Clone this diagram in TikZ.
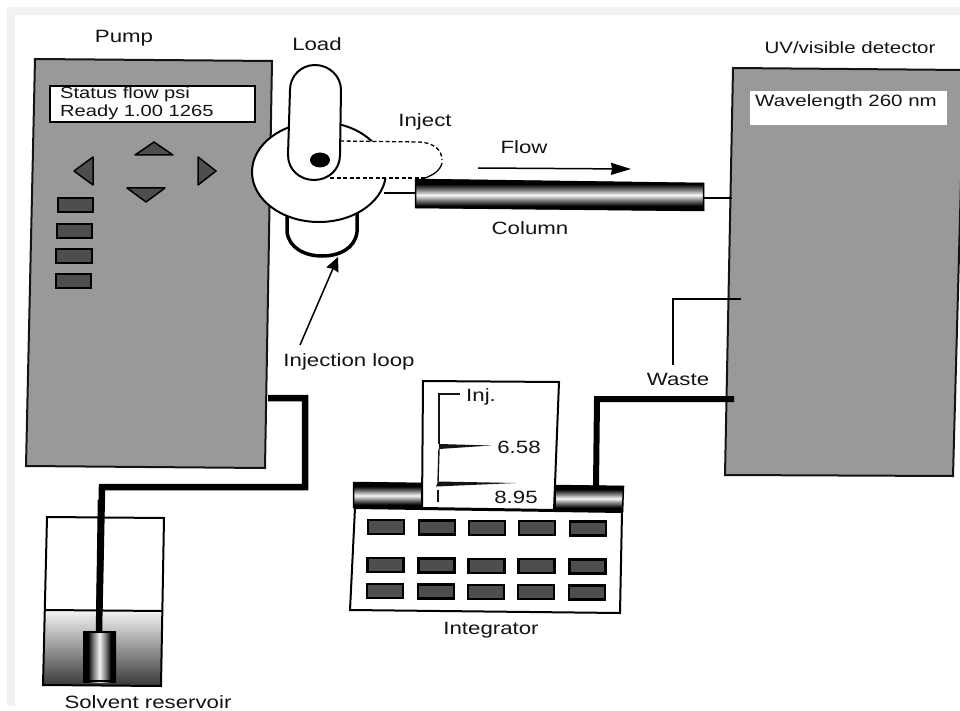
\documentclass[tikz,border=0pt]{standalone}
\usepackage{fontspec}
\setmainfont[FakeStretch=1.25]{Liberation Sans}
\usetikzlibrary{arrows.meta}
\definecolor{panelgray}{HTML}{999999}
\definecolor{keygray}{HTML}{4E4E4E}
\definecolor{bandcolor}{HTML}{F3F2EE}
\definecolor{ink}{HTML}{141414}
\pgfdeclareverticalshading{tubev}{100bp}{color(0bp)=(black);color(33bp)=(black);color(42bp)=(black!50);color(50bp)=(black!3);color(58bp)=(black!50);color(67bp)=(black);color(100bp)=(black)}
\pgfdeclarehorizontalshading{tubeh}{100bp}{color(0bp)=(black);color(33bp)=(black);color(40bp)=(black!55);color(50bp)=(black!5);color(60bp)=(black!55);color(67bp)=(black);color(100bp)=(black)}
\tikzset{
  x=1pt,y=-1pt,
  lbl/.style={text=ink,inner sep=0pt,font=\fontsize{17.8}{20}\selectfont},
  lblnarrow/.style={text=ink,inner sep=0pt,font=\fontsize{16.4}{19}\selectfont},
  lblstatus/.style={text=ink,inner sep=0pt,font=\fontsize{16.1}{19}\selectfont},
  panel/.style={fill=panelgray,draw=ink,line width=2pt,line join=miter},
  keybtn/.style={fill=keygray,draw=black,line width=2.5pt},
  arrowkey/.style={fill=keygray,draw=black,line width=1.5pt,line join=round},
  outline/.style={draw=black,line width=2pt,fill=white},
  thickpipe/.style={draw=black,line width=6.5pt,line join=miter},
  midpipe/.style={draw=black,line width=6pt,line join=miter},
  thinpipe/.style={draw=black,line width=2pt},
  trace/.style={draw=ink,line width=1.4pt},
  tubeedge/.style={draw=black,line width=1.5pt},
}
\begin{document}
\begin{tikzpicture}
\useasboundingbox (0,0) rectangle (960,711);
\fill[white] (0,0) rectangle (960,711);
\fill[bandcolor] (7,7) rectangle (960,15);
\fill[bandcolor] (7,7) rectangle (15,706);

% connection points
\coordinate (pumpout) at (268,398);
\coordinate (pipeA) at (305,398);
\coordinate (pipeB) at (305,487);
\coordinate (pipeC) at (102,487);
\coordinate (filtertop) at (99,632);
\coordinate (valveout) at (384,193);
\coordinate (colin) at (416,193);
\coordinate (colout) at (703,198);
\coordinate (detin) at (732,198);
\coordinate (wasteout) at (741,299);
\coordinate (wasteA) at (673,299);
\coordinate (wasteB) at (673,365);
\coordinate (sigout) at (734,399);
\coordinate (sigA) at (597,399);
\coordinate (sigB) at (596,486);
\coordinate (flowA) at (478,168);
\coordinate (flowB) at (631,169);
\coordinate (loopArrowA) at (300,345);
\coordinate (loopArrowB) at (338,257);

% pump
\path[panel] (35,59) -- (272,61) -- (265,468) -- (26,466) -- cycle;
\draw[fill=white,draw=black,line width=2.5pt] (50,86) rectangle (255,122);
\node[lblstatus,anchor=west] (statusA) at (60,94) {Status flow psi};
\node[lblstatus,anchor=west] (statusB) at (60,112) {Ready 1.00 1265};
\path[arrowkey] (135,155) -- (154,142) -- (173,155) -- cycle;
\path[arrowkey] (74,171) -- (93,157) -- (93,185) -- cycle;
\path[arrowkey] (198,157) -- (198,185) -- (216,171) -- cycle;
\path[arrowkey] (127,188) -- (165,188) -- (146,202) -- cycle;
\path[keybtn] (58,198) rectangle (93,212);
\path[keybtn] (57,224) rectangle (92,238);
\path[keybtn] (56,249) rectangle (92,263);
\path[keybtn] (56,274) rectangle (91,288);

% detector
\path[panel] (733,68) -- (964,70) -- (953,476) -- (725,475) -- cycle;
\fill[white] (750,91) rectangle (947,125);
\node[lblnarrow,anchor=west] (wave) at (755,102) {Wavelength 260 nm};

% pipes
\draw[thickpipe] (pumpout) -- (pipeA) -- (pipeB) -- (pipeC) -- (filtertop);
\draw[thinpipe] (valveout) -- (colin);
\draw[thinpipe] (colout) -- (detin);
\draw[thinpipe] (wasteout) -- (wasteA) -- (wasteB);
\draw[midpipe] (sigout) -- (sigA) -- (sigB);

% column
\path[shading=tubev] (415,179) -- (704,183) -- (704,211) -- (415,208) -- cycle;
\path[tubeedge] (415.5,179.5) -- (703.5,183.5) -- (703.5,210.5) -- (415.5,207.5) -- cycle;

% injection loop
\draw[draw=black,line width=3.5pt] (287,210) -- (287,232) .. controls (289,248) and (305,256) .. (322,256) .. controls (340,256) and (355,248) .. (357,232) -- (357,210);
% valve
\draw[outline] (319,172) ellipse [x radius=67,y radius=50];
% inject position
\fill[white] (340,141) -- (420,142) .. controls (434,143) and (442,150) .. (442,160) .. controls (442,170) and (434,178) .. (420,178) -- (330,178) -- cycle;
\draw[black,line width=1.3pt,dash pattern=on 4pt off 2.5pt] (340,141) -- (420,142) .. controls (434,143) and (442,150) .. (442,160);
\draw[black,line width=1.3pt,dash pattern=on 4pt off 2.5pt] (425,178) -- (330,178);
\draw[black,line width=1.3pt] (442,163) .. controls (440,171) and (433,175) .. (425,178);
% load position
\draw[outline] (290,90) .. controls (290,76) and (301,65) .. (315,65) .. controls (329,65) and (341,76) .. (341,90) -- (340,155) .. controls (340,170) and (328,180) .. (314,180) .. controls (300,180) and (288,170) .. (288,155) -- cycle;
\fill[black] (320,160) ellipse [x radius=10,y radius=7.5];

\draw[black,line width=1.5pt,-{Stealth[length=14pt,width=13pt,inset=1pt]}] (loopArrowA) -- (loopArrowB);
\draw[black,line width=1.5pt,-{Stealth[length=20pt,width=12pt,inset=1pt]}] (flowA) -- (flowB);

% integrator
\path[shading=tubev] (353,482) -- (424,483) -- (424,509) -- (353,508) -- cycle;
\path[tubeedge] (353.5,482.5) -- (424,483.5) -- (424,508.5) -- (353.5,507.5) -- cycle;
\path[shading=tubev] (555,485) -- (624,486) -- (623,512) -- (555,511) -- cycle;
\path[tubeedge] (555,485.5) -- (623.5,486.5) -- (622.5,511.5) -- (555,510.5) -- cycle;
\draw[outline] (355,508) -- (622,512) -- (620,613) -- (350,610) -- cycle;
\draw[outline] (423,381) -- (559,382) -- (554,510) -- (422,508) -- cycle;
\draw[trace] (460,394) -- (439,394) -- (439,444);
\fill[ink] (439,444) -- (491,445.5) -- (439,449) -- cycle;
\draw[trace] (439,449) -- (438,482);
\fill[ink] (438,481.5) -- (516,483) -- (436,486.5) -- cycle;
\draw[trace] (438,490) -- (438,502);
\foreach \col/\cx in {0/368,1/419,2/469,3/519,4/570}{
  \path[keybtn] (\cx,520+0.4*\col) rectangle ++(36,14);
  \path[keybtn] (\cx-0.5,558+0.4*\col) rectangle ++(36,14);
  \path[keybtn] (\cx-1,584+0.4*\col) rectangle ++(36,14);
}

% reservoir
\shade[top color=black!4,bottom color=black!78] (45,610) -- (163,610) -- (161,686) -- (43,685) -- cycle;
\draw[black,line width=2pt,line join=miter] (47,517) -- (164,518) -- (161,686) -- (43,685) -- cycle;
\draw[black,line width=2pt] (45,610) -- (163,611);
\draw[thickpipe] (101,500) -- (filtertop);
\path[shading=tubeh] (83,631) rectangle (116,682);
\draw[black,line width=2pt] (84,632) rectangle (115,681);

% labels
\node[lbl] (pump) at (124,38) {Pump};
\node[lbl] (load) at (317,44) {Load};
\node[lbl] (inject) at (425,122) {Inject};
\node[lbl] (flow) at (524,147) {Flow};
\node[lbl] (column) at (530,228) {Column};
\node[lblnarrow] (uv) at (850,48) {UV/visible detector};
\node[lbl] (iloop) at (349,362) {Injection loop};
\node[lbl] (waste) at (678,379) {Waste};
\node[lbl,anchor=west] (inj) at (466,397) {Inj.};
\node[lbl] (t1) at (519,447) {6.58};
\node[lbl] (t2) at (516,497) {8.95};
\node[lbl] (integ) at (491,630) {Integrator};
\node[lbl] (solv) at (148,702) {Solvent reservoir};
\end{tikzpicture}
\end{document}
